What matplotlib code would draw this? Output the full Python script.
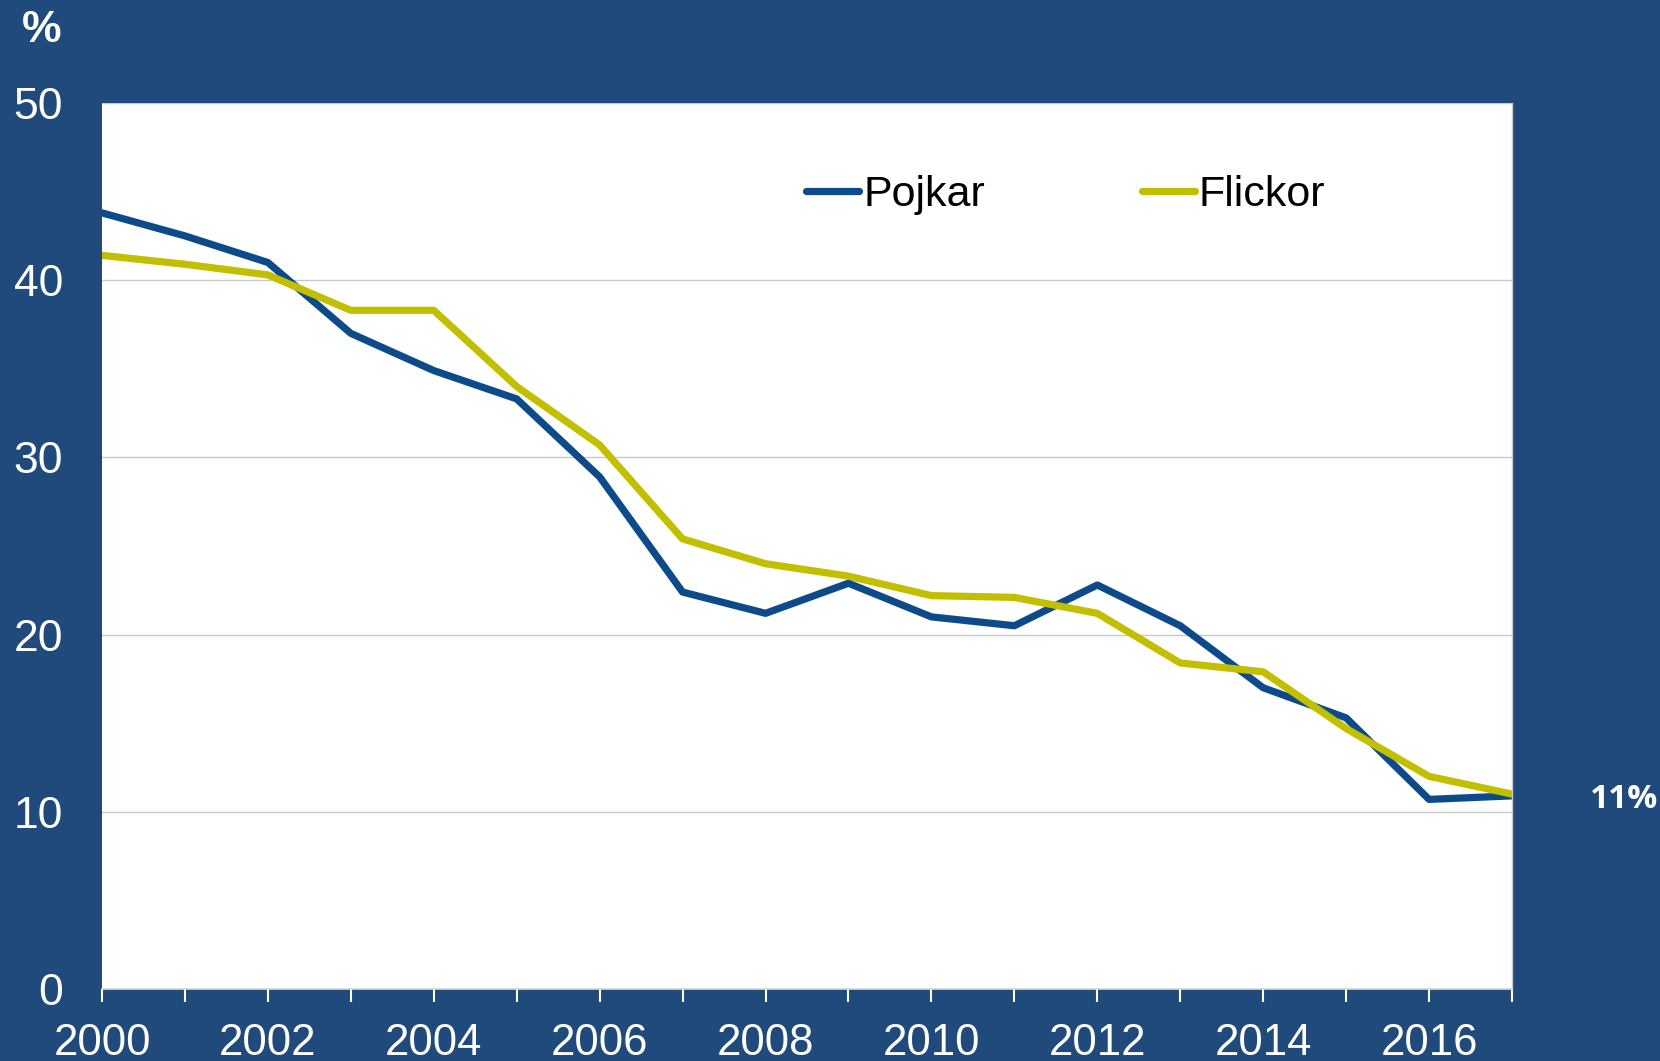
import matplotlib.pyplot as plt
from matplotlib.ticker import MultipleLocator

years = list(range(2000, 2018))
pojkar = [43.8, 42.5, 41.0, 37.0, 34.9, 33.3, 28.9, 22.4, 21.2, 22.9,
          21.0, 20.5, 22.8, 20.5, 17.0, 15.3, 10.7, 10.9]
flickor = [41.4, 40.9, 40.3, 38.3, 38.3, 34.0, 30.7, 25.4, 24.0, 23.3,
           22.2, 22.1, 21.2, 18.4, 17.9, 14.7, 12.0, 11.0]
yticks = [0, 10, 20, 30, 40, 50]

bg = '#214A7C'
blue = '#0D4A8A'
yellow = '#C2BF00'

plt.rcParams['font.family'] = ['Liberation Sans', 'DejaVu Sans']

fig = plt.figure(figsize=(16.6, 10.61), dpi=100, facecolor=bg)
ax = fig.add_axes([102 / 1660, 72 / 1061, 1410 / 1660, 886 / 1061])
ax.set_facecolor('white')

ax.plot(years, pojkar, color=blue, lw=5.2, label='Pojkar', solid_capstyle='round')
ax.plot(years, flickor, color=yellow, lw=5.2, label='Flickor', solid_capstyle='round')

ax.set_xlim(2000, 2017)
ax.set_ylim(0, 50)
ax.set_yticks(yticks)
ax.xaxis.set_minor_locator(MultipleLocator(1))
ax.set_xticks([y for y in years if y % 2 == 0])
ax.set_xticklabels([str(y) for y in years if y % 2 == 0])

ax.grid(axis='y', color='#C8C8C8', lw=1)
ax.set_axisbelow(True)

for s in ['left', 'top']:
    ax.spines[s].set_visible(False)
ax.spines['right'].set_color('#C8C8C8')
ax.spines['right'].set_linewidth(1)
ax.spines['bottom'].set_color('#D9D9D9')
ax.spines['bottom'].set_linewidth(1.2)

ax.tick_params(axis='y', length=0, pad=28, labelsize=32, labelcolor='white')
ax.tick_params(axis='x', which='both', direction='out', length=9.5, width=1.5,
               color='white', labelsize=31.5, labelcolor='white', pad=15)

leg = ax.legend(ncol=2, frameon=False, fontsize=31, handlelength=1.22,
                handletextpad=0.1, columnspacing=3.65,
                loc='center left', bbox_to_anchor=(0.472, 0.896))

fig.text(42 / 1660, 1 - 30 / 1061, '%', color='white', fontsize=32,
         fontweight='bold', ha='center', va='center')
fig.text(1624 / 1660, 1 - 800 / 1061, '11%', color='white', fontsize=24,
         fontweight='bold', ha='center', va='center',
         family=['Open Sans', 'DejaVu Sans'])

fig.savefig('out.png', dpi=100, facecolor=bg)
